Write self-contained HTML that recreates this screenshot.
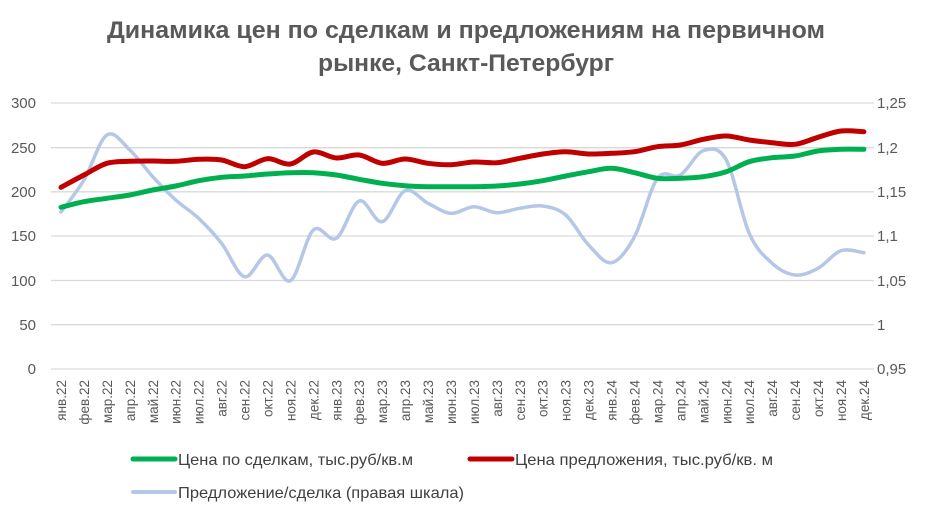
<!DOCTYPE html>
<html><head><meta charset="utf-8"><style>
html,body{margin:0;padding:0;background:#fff;}
svg{display:block;font-family:"Liberation Sans","DejaVu Sans",sans-serif;}
</style></head><body>
<svg id="s" width="932" height="514" viewBox="0 0 932 514" xmlns="http://www.w3.org/2000/svg">
<text x="466" y="38" text-anchor="middle" font-size="24" font-weight="bold" fill="#595959" textLength="718" lengthAdjust="spacingAndGlyphs">Динамика цен по сделкам и предложениям на первичном</text>
<text x="466" y="71" text-anchor="middle" font-size="24" font-weight="bold" fill="#595959" textLength="296" lengthAdjust="spacingAndGlyphs">рынке, Санкт-Петербург</text>
<g stroke="#d9d9d9" stroke-width="1.3">
<line x1="51" x2="874" y1="103" y2="103"/><line x1="51" x2="874" y1="147.7" y2="147.7"/>
<line x1="51" x2="874" y1="191.8" y2="191.8"/><line x1="51" x2="874" y1="236" y2="236"/>
<line x1="51" x2="874" y1="280.5" y2="280.5"/><line x1="51" x2="874" y1="324.7" y2="324.7"/>
<line x1="51" x2="874" y1="369" y2="369"/>
</g>
<g font-size="15" fill="#595959" text-anchor="end">
<text x="36" y="108">300</text><text x="36" y="153">250</text><text x="36" y="197">200</text>
<text x="36" y="241">150</text><text x="36" y="286">100</text><text x="36" y="330">50</text><text x="36" y="374">0</text>
</g>
<g font-size="15" fill="#595959">
<text x="877" y="108">1,25</text><text x="877" y="153">1,2</text><text x="877" y="197">1,15</text>
<text x="877" y="241">1,1</text><text x="877" y="286">1,05</text><text x="877" y="330">1</text><text x="877" y="374">0,95</text>
</g>
<g id="xl" font-size="13.5" fill="#595959"></g>
<g id="lines"></g>
<line x1="133" x2="175" y1="459" y2="459" stroke="#00B050" stroke-width="5" stroke-linecap="round"/>
<text x="178" y="465" font-size="16" fill="#404040" textLength="235" lengthAdjust="spacingAndGlyphs">Цена по сделкам, тыс.руб/кв.м</text>
<line x1="470" x2="512" y1="459" y2="459" stroke="#C00000" stroke-width="5" stroke-linecap="round"/>
<text x="515" y="465" font-size="16" fill="#404040" textLength="258" lengthAdjust="spacingAndGlyphs">Цена предложения, тыс.руб/кв. м</text>
<line x1="133" x2="175" y1="492" y2="492" stroke="#B4C7E7" stroke-width="4" stroke-linecap="round"/>
<text x="178" y="498" font-size="16" fill="#404040" textLength="286" lengthAdjust="spacingAndGlyphs">Предложение/сделка (правая шкала)</text>
</svg>
<script>
var ns="http://www.w3.org/2000/svg";
var m=["янв","фев","мар","апр","май","июн","июл","авг","сен","окт","ноя","дек"];
var xl=document.getElementById("xl");
function X(i){return 61+22.94*i;}
for(var i=0;i<36;i++){var t=document.createElementNS(ns,"text");var x=X(i)+5;
t.setAttribute("transform","translate("+x+",380) rotate(-90)");t.setAttribute("text-anchor","end");
t.textContent=m[i%12]+"."+(22+Math.floor(i/12));xl.appendChild(t);}
var G=[207.3,201.7,198.3,195,190,186,180.7,177.3,176,174,172.7,172.7,175,179.3,183.3,185.7,186.7,186.7,186.7,186,184,180.7,176,171.7,168.3,172.7,178.3,178.3,176.7,171.7,161.7,157.7,156,151,149.3,149.3];
var R=[187.3,175,163.3,161.3,161,161.3,159.3,160,166.7,158.7,164,152,158,155,163.3,159,163.3,164.7,162,162.7,158.3,154,151.7,154,153.3,151.7,146.7,145,139.3,136,140,142.7,144.3,137.3,131,131.7];
var B=[212,180,135,150,176.7,200,218.3,243.3,276.7,255,280.7,230,238.3,201,221.7,190.7,203.3,213.3,206.7,212.7,208.3,206,215,245,262.7,236.7,178.3,175,150.7,160,233.3,263.3,275,268.3,250.7,252.7];
function path(a){var p=a.map(function(y,i){return[X(i),y]});var d="M"+p[0][0]+","+p[0][1];
for(var i=0;i<p.length-1;i++){var p0=p[i-1]||p[i],p1=p[i],p2=p[i+1],p3=p[i+2]||p2;
var c1=[p1[0]+(p2[0]-p0[0])/6,p1[1]+(p2[1]-p0[1])/6],c2=[p2[0]-(p3[0]-p1[0])/6,p2[1]-(p3[1]-p1[1])/6];
d+=" C"+c1+" "+c2+" "+p2;}return d;}
var L=document.getElementById("lines");
[[B,"#B4C7E7",3.5],[G,"#00B050",5],[R,"#C00000",5]].forEach(function(s){var e=document.createElementNS(ns,"path");
e.setAttribute("d",path(s[0]));e.setAttribute("fill","none");e.setAttribute("stroke",s[1]);e.setAttribute("stroke-width",s[2]);
e.setAttribute("stroke-linecap","round");e.setAttribute("stroke-linejoin","round");L.appendChild(e);});
</script>
</body></html>
